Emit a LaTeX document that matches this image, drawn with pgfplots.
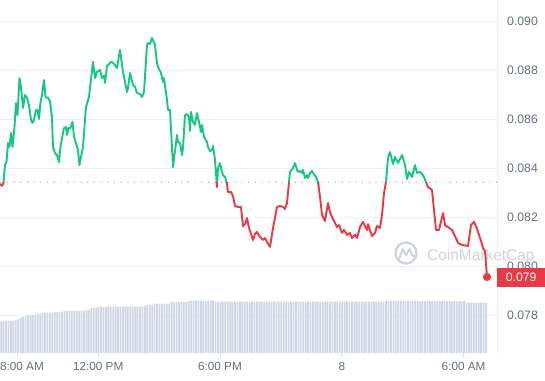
\documentclass[border=0pt]{standalone}
\usepackage{pgfplots}
\usepackage{pgfplotstable}
\pgfplotsset{compat=1.18}
\usepgfplotslibrary{fillbetween}
\usepackage{fontspec}
\setmainfont{Liberation Sans}
\definecolor{cmcgreen}{HTML}{16C784}
\definecolor{cmcred}{HTML}{EA3943}
\definecolor{gridc}{HTML}{EFF2F5}
\definecolor{labc}{HTML}{616E85}
\definecolor{volc}{HTML}{CFD6E4}
\definecolor{dotc}{HTML}{9AA3B3}
\definecolor{wm}{HTML}{CDD2DC}

\pgfplotstableread{
h p
-0.837 0.08335
-0.739 0.08327
-0.665 0.08339
-0.591 0.08412
-0.517 0.08424
-0.443 0.08502
-0.369 0.08486
-0.296 0.08543
-0.222 0.08486
-0.123 0.08567
-0.049 0.08665
0.025 0.08616
0.123 0.08767
0.197 0.08731
0.296 0.08645
0.394 0.08698
0.493 0.08686
0.591 0.08657
0.690 0.08596
0.764 0.08584
0.837 0.08596
0.936 0.08637
1.010 0.08637
1.084 0.08600
1.158 0.08669
1.232 0.08698
1.330 0.08759
1.404 0.08690
1.527 0.08686
1.626 0.08673
1.724 0.08608
1.773 0.08486
1.872 0.08461
1.970 0.08453
2.069 0.08424
2.143 0.08486
2.217 0.08522
2.315 0.08563
2.414 0.08567
2.463 0.08535
2.537 0.08563
2.635 0.08563
2.734 0.08588
2.808 0.08527
2.906 0.08502
3.005 0.08473
3.079 0.08412
3.153 0.08445
3.251 0.08486
3.399 0.08649
3.547 0.08690
3.744 0.08833
3.842 0.08767
3.941 0.08792
4.089 0.08800
4.187 0.08767
4.286 0.08776
4.335 0.08747
4.433 0.08816
4.483 0.08820
4.631 0.08833
4.729 0.08829
4.828 0.08820
4.926 0.08808
5.074 0.08882
5.222 0.08792
5.419 0.08710
5.468 0.08727
5.567 0.08788
5.714 0.08739
5.813 0.08731
5.911 0.08706
6.059 0.08702
6.158 0.08690
6.256 0.08710
6.404 0.08902
6.453 0.08910
6.552 0.08906
6.650 0.08931
6.700 0.08922
6.798 0.08902
6.897 0.08829
6.946 0.08812
7.094 0.08788
7.192 0.08751
7.241 0.08767
7.389 0.08678
7.438 0.08637
7.537 0.08637
7.685 0.08404
7.882 0.08535
7.931 0.08506
8.030 0.08502
8.128 0.08453
8.177 0.08482
8.276 0.08616
8.374 0.08620
8.473 0.08608
8.522 0.08551
8.571 0.08629
8.670 0.08588
8.768 0.08576
8.867 0.08624
8.966 0.08588
9.064 0.08547
9.113 0.08576
9.212 0.08527
9.360 0.08506
9.409 0.08486
9.507 0.08469
9.606 0.08473
9.655 0.08490
9.754 0.08433
9.852 0.08322
9.901 0.08400
10.000 0.08420
10.099 0.08384
10.148 0.08371
10.246 0.08363
10.345 0.08335
10.394 0.08302
10.542 0.08302
10.640 0.08286
10.739 0.08245
10.887 0.08241
11.034 0.08241
11.133 0.08163
11.232 0.08171
11.330 0.08196
11.429 0.08155
11.527 0.08131
11.626 0.08106
11.724 0.08131
11.823 0.08139
11.970 0.08118
12.118 0.08106
12.217 0.08114
12.315 0.08098
12.463 0.08078
12.611 0.08155
12.709 0.08196
12.808 0.08241
12.956 0.08245
13.103 0.08241
13.202 0.08233
13.300 0.08257
13.399 0.08343
13.448 0.08384
13.596 0.08400
13.695 0.08420
13.793 0.08392
13.842 0.08384
13.941 0.08388
14.039 0.08380
14.089 0.08392
14.187 0.08359
14.286 0.08371
14.335 0.08359
14.433 0.08380
14.532 0.08388
14.581 0.08380
14.729 0.08363
14.828 0.08343
14.926 0.08282
15.025 0.08208
15.172 0.08184
15.320 0.08257
15.419 0.08220
15.567 0.08192
15.764 0.08159
15.862 0.08167
16.010 0.08135
16.108 0.08147
16.256 0.08127
16.404 0.08135
16.502 0.08114
16.650 0.08127
16.749 0.08114
16.897 0.08159
17.044 0.08180
17.241 0.08147
17.291 0.08171
17.488 0.08122
17.635 0.08135
17.734 0.08163
17.882 0.08155
17.980 0.08208
18.079 0.08298
18.177 0.08343
18.276 0.08441
18.374 0.08465
18.522 0.08416
18.621 0.08445
18.768 0.08420
18.966 0.08453
19.113 0.08412
19.212 0.08355
19.310 0.08384
19.458 0.08363
19.606 0.08412
19.704 0.08380
19.852 0.08384
20.000 0.08371
20.148 0.08343
20.246 0.08322
20.443 0.08310
20.640 0.08147
20.788 0.08147
20.985 0.08216
21.084 0.08167
21.429 0.08147
21.576 0.08122
21.724 0.08094
21.921 0.08086
22.217 0.08082
22.365 0.08167
22.512 0.08180
22.660 0.08151
22.857 0.08102
22.956 0.08073
23.054 0.08061
23.153 0.07955
}\pricetable

\pgfplotstableread{
h v
-0.78 31.8
-0.66 31.8
-0.54 31.8
-0.42 31.8
-0.30 31.8
-0.18 32.5
-0.06 33
0.06 34
0.18 35.5
0.30 36.5
0.42 37
0.54 38
0.66 38
0.78 38
0.90 38.5
1.02 39.5
1.14 39.5
1.26 40
1.38 40.2
1.50 40.2
1.62 40.2
1.74 40.5
1.86 41
1.98 41
2.10 41
2.22 41.5
2.34 42.5
2.46 42.5
2.58 42.5
2.70 42.5
2.82 42.5
2.94 42.5
3.06 42.5
3.18 42.5
3.30 42.5
3.42 42.5
3.54 43.5
3.66 44.8
3.78 44.8
3.90 45
4.02 46.5
4.14 46.5
4.26 46.5
4.38 46.5
4.50 46.5
4.62 46.5
4.74 46.5
4.86 46.5
4.98 46.5
5.10 46.5
5.22 46.5
5.34 46.5
5.46 46.5
5.58 46.5
5.70 46.5
5.82 46.5
5.94 46.5
6.06 46.5
6.18 46.5
6.30 47.5
6.42 48.5
6.54 48.5
6.66 48.5
6.78 49.5
6.90 49.5
7.02 49.5
7.14 49.5
7.26 49.5
7.38 49.5
7.50 49.5
7.62 50.8
7.74 50.8
7.86 50.8
7.98 50.8
8.10 50.8
8.22 50.8
8.34 50.8
8.46 52
8.58 52.5
8.70 52.5
8.82 52.5
8.94 52.5
9.06 52.5
9.18 52.5
9.30 52.5
9.42 52.5
9.54 52.5
9.66 52.5
9.78 51.5
9.90 51.5
10.02 51.5
10.14 51.5
10.26 51.5
10.38 51.5
10.50 51.5
10.62 51.5
10.74 51.5
10.86 51.5
10.98 51.5
11.10 51.5
11.22 51.5
11.34 51.5
11.46 51.5
11.58 51.5
11.70 51.5
11.82 51.5
11.94 51.5
12.06 51.5
12.18 51.5
12.30 51.5
12.42 51.5
12.54 51.5
12.66 51.5
12.78 51.5
12.90 51.5
13.02 51.5
13.14 51.5
13.26 51.5
13.38 51.5
13.50 51.5
13.62 51.5
13.74 51.5
13.86 51.5
13.98 51.5
14.10 51.5
14.22 51.5
14.34 51.5
14.46 51.5
14.58 51.5
14.70 51.5
14.82 51.5
14.94 51.5
15.06 51.5
15.18 51.5
15.30 51.5
15.42 51.5
15.54 51.5
15.66 51.5
15.78 51.5
15.90 51.5
16.02 51.5
16.14 51.5
16.26 51.5
16.38 51.5
16.50 51.5
16.62 51.5
16.74 51.5
16.86 51.5
16.98 51.5
17.10 51.5
17.22 51.5
17.34 51.5
17.46 51.5
17.58 51.5
17.70 51.5
17.82 51.5
17.94 51.5
18.06 51.5
18.18 52.2
18.30 52.2
18.42 52.2
18.54 52.2
18.66 52.2
18.78 52.2
18.90 52.2
19.02 52.2
19.14 52.2
19.26 52.2
19.38 52.2
19.50 52.2
19.62 52.2
19.74 52.2
19.86 51.8
19.98 51.8
20.10 51.8
20.22 51.8
20.34 51.8
20.46 51.8
20.58 51.8
20.70 51.8
20.82 51.8
20.94 51.8
21.06 51.8
21.18 51.8
21.30 51.8
21.42 51.8
21.54 51.8
21.66 51.8
21.78 51.8
21.90 51.8
22.02 51.8
22.14 50.5
22.26 50.5
22.38 50.5
22.50 50.5
22.62 50.5
22.74 50.5
22.86 50.5
22.98 50.5
23.10 50.5
}\voltable

\begin{document}
\begin{tikzpicture}[x=1bp,y=1bp]
\begin{axis}[
  at={(0,27)}, anchor=south west,
  scale only axis, width=497bp, height=353bp,
  xmin=-0.837, xmax=23.645, ymin=0.076449, ymax=0.090857,
  clip=false,
  axis line style={draw=none},
  ymajorgrids, grid style={gridc, line width=0.9bp},
  ytick={0.078,0.08,0.082,0.084,0.086,0.088,0.09},
  yticklabels={0.078,0.080,0.082,0.084,0.086,0.088,0.090},
  yticklabel pos=right, ytick pos=right,
  ytick style={draw=none},
  yticklabel style={anchor=west, inner sep=0pt, xshift=6bp, font=\fontsize{12.3}{14}\selectfont},
  xtick={0,4,10,16,22},
  xticklabels={\hspace*{10bp}8:00 AM,12:00 PM,6:00 PM,8,6:00 AM},
  xtick pos=bottom, tick align=outside, major tick length=4bp,
  xtick style={draw=labc!22, line width=0.8bp},
  xticklabel style={anchor=north, inner sep=0pt, yshift=-5bp, font=\fontsize{11.8}{13}\selectfont},
  ticklabel style={text=labc},
  /pgf/number format/assume math mode=true,
]
\coordinate (bl) at (rel axis cs:0,0);
% watermark (behind the price line)
\draw[wm, line width=2.2bp] (axis cs:19.163,0.080531) circle (10.5bp);
\draw[wm, line width=2bp, line join=round, line cap=round] (axis cs:19.163,0.080531) ++(-6.5bp,-5.5bp) -- ++(3bp,9.5bp) -- ++(3.5bp,-6.5bp) -- ++(3.5bp,6.5bp) -- ++(2.5bp,-6bp) -- ++(3.5bp,-2bp);
\node[text=wm, font=\fontsize{15.5}{16}\selectfont, anchor=base west, inner sep=0pt] at (axis cs:20.197,0.08024) {CoinMarketCap};

\addplot[draw=none, name path=price, forget plot] table[x=h,y=p] {\pricetable};
\addplot[draw=none, name path=base, forget plot] coordinates {(-0.837,0.08342) (23.153,0.08342)};
\addplot[draw=none, top color=cmcgreen!24, bottom color=cmcgreen!3] fill between[of=price and base, soft clip={domain y=0.08342:0.0909}];
\addplot[draw=none, top color=cmcred!15, bottom color=cmcred!2] fill between[of=price and base, soft clip={domain y=0.0764:0.08342}];
\addplot[dotc, line width=1.3bp, line cap=round, dash pattern=on 0bp off 6.7bp] coordinates {(-0.80,0.08342) (23.645,0.08342)};
\begin{scope}
\clip (axis cs:-1,0.08342) rectangle (axis cs:24,0.0909);
\addplot[cmcgreen, line width=1.9bp, line join=round] table[x=h,y=p] {\pricetable};
\end{scope}
\begin{scope}
\clip (axis cs:-1,0.0764) rectangle (axis cs:24,0.08342);
\addplot[cmcred, line width=1.9bp, line join=round] table[x=h,y=p] {\pricetable};
\end{scope}
\addplot[only marks, mark=*, mark size=3.8bp, cmcred] coordinates {(23.153,0.07955)};
\draw[gridc, line width=1bp] (rel axis cs:1,0) -- (rel axis cs:1,1);
\coordinate (lastp) at (axis cs:23.645,0.07955);
\end{axis}

\begin{axis}[
  at={(bl)}, anchor=south west,
  scale only axis, width=497bp, height=353bp,
  xmin=-0.837, xmax=23.645, ymin=0, ymax=353,
  hide axis,
]
\addplot[ybar, bar width=0.085, fill=volc, draw=none] table[x=h,y=v] {\voltable};
\end{axis}

\node[fill=cmcred, text=white, anchor=west, minimum width=48bp, minimum height=19bp, inner sep=0pt, font=\fontsize{12.3}{14}\selectfont] at (lastp) {0.079};

\pgfresetboundingbox
\path[use as bounding box] ([shift={(0,-27)}]bl) rectangle ([shift={(545,353)}]bl);
\end{tikzpicture}
\end{document}
